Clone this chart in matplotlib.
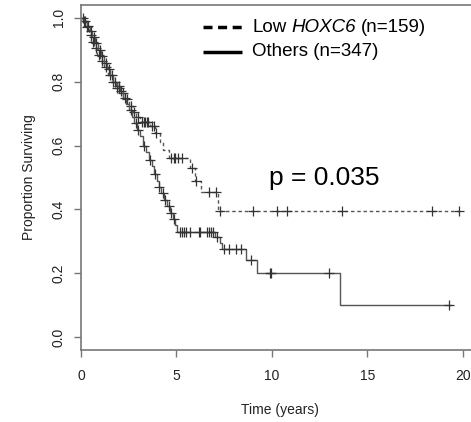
import numpy as np
import matplotlib
matplotlib.use("Agg")
import matplotlib.pyplot as plt

plt.rcParams["font.family"] = ["Liberation Sans", "DejaVu Sans"]

# Low HOXC6 (n=159): event times and survival after each event
low_times = [0.1, 0.25, 0.4, 0.55, 0.7, 0.85, 1.0, 1.2, 1.4, 1.6, 1.85, 2.1, 2.3,
             2.5, 2.7, 2.9, 3.1, 3.6, 3.9, 4.15, 4.3, 4.6, 5.7, 5.95, 6.3, 7.2]
low_surv = [0.99, 0.97, 0.945, 0.925, 0.905, 0.885, 0.865, 0.845, 0.82, 0.80, 0.78,
            0.765, 0.745, 0.725, 0.705, 0.69, 0.675, 0.66, 0.64, 0.61, 0.585, 0.56,
            0.53, 0.49, 0.455, 0.395]
low_end = 19.8
low_cens = [0.15, 0.3, 0.5, 0.65, 0.8, 0.95, 1.1, 1.3, 1.5, 1.7, 1.9, 2.0, 2.2, 2.4,
            2.6, 2.8, 3.0, 3.2, 3.3, 3.35, 3.45, 3.5, 3.7, 3.8, 3.95, 4.7, 4.85, 4.95,
            5.1, 5.3, 5.8, 6.05, 6.7, 7.05, 7.28, 9.0, 10.26, 10.8, 13.67, 18.4, 19.8]

# Others (n=347)
oth_times = [0.15, 0.3, 0.45, 0.6, 0.75, 0.9, 1.05, 1.2, 1.35, 1.5, 1.7, 1.9, 2.05,
             2.2, 2.35, 2.5, 2.65, 2.8, 2.95, 3.1, 3.25, 3.4, 3.55, 3.7, 3.85, 4.0,
             4.1, 4.2, 4.35, 4.5, 4.65, 4.8, 4.95, 5.05, 7.0, 7.28, 7.37, 8.67, 9.2,
             13.56]
oth_surv = [0.99, 0.975, 0.96, 0.94, 0.92, 0.90, 0.88, 0.86, 0.84, 0.82, 0.80, 0.785,
            0.77, 0.75, 0.73, 0.71, 0.69, 0.67, 0.65, 0.63, 0.60, 0.58, 0.555, 0.535,
            0.51, 0.49, 0.47, 0.45, 0.43, 0.41, 0.39, 0.37, 0.35, 0.33, 0.315, 0.295,
            0.276, 0.243, 0.20, 0.10]
oth_end = 19.4
oth_cens = [0.1, 0.2, 0.35, 0.5, 0.7, 0.8, 1.0, 1.1, 1.3, 1.45, 1.6, 1.8, 2.0, 2.1,
            2.3, 2.6, 2.9, 3.0, 3.3, 3.6, 3.9, 4.1, 4.3, 4.4, 4.6, 4.7, 4.85, 5.2,
            5.3, 5.4, 5.5, 5.7, 6.2, 6.25, 6.6, 6.7, 6.8, 6.9, 7.15, 7.5, 7.75, 8.1,
            8.4, 8.9, 9.9, 9.95, 13.0, 19.3]

x_ticks = [0, 5, 10, 15, 20]
y_ticks = [0.0, 0.2, 0.4, 0.6, 0.8, 1.0]
p_text = "p = 0.035"


def step_xy(times, surv, end):
    t = np.concatenate([[0.0], times, [end]])
    s = np.concatenate([[1.0], surv, [surv[-1]]])
    return t, s


def surv_at(times, surv, x):
    idx = np.searchsorted(np.asarray(times), np.asarray(x), side="right")
    s = np.concatenate([[1.0], surv])
    return s[idx]


fig = plt.figure(figsize=(4.71, 4.22), dpi=100)
ax = fig.add_axes([81 / 471, 72 / 422, (478 - 81) / 471, (417 - 72) / 422])

axis_col = "#777777"
for times, surv, end, cens, ls in [
    (low_times, low_surv, low_end, low_cens, (0, (2.5, 2))),
    (oth_times, oth_surv, oth_end, oth_cens, "-"),
]:
    t, s = step_xy(times, surv, end)
    ax.step(t, s, where="post", color="#555555", lw=1.0, linestyle=ls)
    ax.plot(cens, surv_at(times, surv, cens), linestyle="none", marker="+",
            markersize=6.5, markeredgewidth=0.9, color="#333333")

ax.set_xlim(0, 20.8)
ax.set_ylim(-0.04, 1.04)
ax.set_xticks(x_ticks)
ax.set_xticklabels([str(v) for v in x_ticks])
ax.set_yticks(y_ticks)
ax.set_yticklabels([f"{v:.1f}" for v in y_ticks], rotation=90, va="center")
ax.tick_params(length=5, width=1, color=axis_col, labelsize=10, labelcolor="#222222",
               pad=6)
ax.tick_params(axis="x", pad=9)
for side in ["left", "bottom", "top", "right"]:
    ax.spines[side].set_color(axis_col)
    ax.spines[side].set_linewidth(1.2)

ax.set_xlabel("Time (years)", fontsize=10, labelpad=14, color="#222222")
ax.set_ylabel("Proportion Surviving", fontsize=10, labelpad=11, color="#222222")

# legend drawn by hand so that the gene name can be italic
leg_x0, leg_x1, leg_tx = 0.307, 0.406, 0.431
leg_y = [0.936, 0.864]
ax.plot([leg_x0, leg_x1], [leg_y[0]] * 2, transform=ax.transAxes, color="black",
        lw=2.5, linestyle=(0, (2.6, 1.6)), solid_capstyle="butt")
ax.plot([leg_x0, leg_x1], [leg_y[1]] * 2, transform=ax.transAxes, color="black",
        lw=2.5, solid_capstyle="butt")
leg_fs = 13.5
t1 = ax.text(leg_tx, leg_y[0], "Low", transform=ax.transAxes, fontsize=leg_fs,
             va="center", ha="left")
t2 = ax.annotate("HOXC6", xy=(1, 0), xycoords=t1, xytext=(3.5, 0),
                 textcoords="offset points", fontsize=leg_fs, fontstyle="italic",
                 va="bottom", ha="left")
ax.annotate("(n=159)", xy=(1, 0), xycoords=t2, xytext=(3.5, 0),
            textcoords="offset points", fontsize=leg_fs, va="bottom", ha="left")
ax.text(leg_tx, leg_y[1], "Others (n=347)", transform=ax.transAxes, fontsize=leg_fs,
        va="center", ha="left")

ax.text(9.85, 0.50, p_text, fontsize=19, ha="left", va="center")

fig.savefig("out.png", dpi=100)
